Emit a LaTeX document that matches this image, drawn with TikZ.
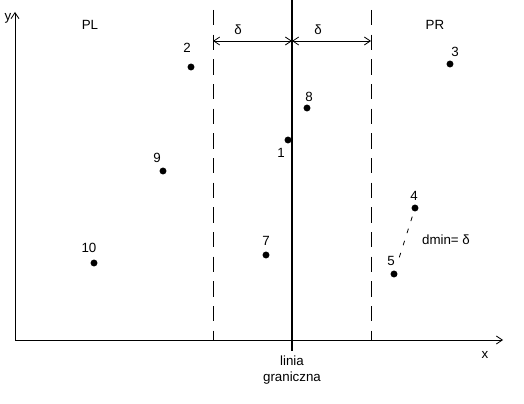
\documentclass[tikz,border=0pt]{standalone}
\usepackage{fontspec}
\setmainfont{Liberation Sans}
\usetikzlibrary{arrows.meta}
\begin{document}
\begin{tikzpicture}[x=0.75pt,y=-0.75pt,
  lbl/.style={font=\fontsize{10}{11}\selectfont, inner sep=0pt},
  dot/.style={circle, fill=black, inner sep=0pt, minimum size=5.2pt},
  axisarrow/.style={-{Straight Barb[length=4.5pt,width=6pt]}, line width=0.6pt},
  dimarrow/.style={{Straight Barb[length=4.5pt,width=6pt]}-{Straight Barb[length=4.5pt,width=6pt]}, line width=0.6pt},
  bound/.style={dash pattern=on 11.5pt off 7pt, line width=0.6pt}]
\useasboundingbox (0,0) rectangle (524,403);
% axes
\coordinate (O) at (15,340);
\coordinate (ytop) at (15,12);
\coordinate (xend) at (503,340);
\draw[axisarrow] (O) -- (ytop);
\draw[axisarrow] (O) -- (xend);
\node[lbl] (ylab) at (8,18) {y};
\node[lbl] (xlab) at (485,355) {x};
% boundary line
\coordinate (btop) at (292,0);
\coordinate (bbot) at (292,351);
\draw[line width=1.5pt] (btop) -- (bbot);
% dashed lines
\coordinate (dlt) at (213,10);
\coordinate (dlb) at (213,340);
\coordinate (drt) at (371,10);
\coordinate (drb) at (371,340);
\draw[bound] (dlt) -- (dlb);
\draw[bound] (drt) -- (drb);
% delta arrows
\coordinate (dm) at (292,41);
\coordinate (dl) at (213,41);
\coordinate (dr) at (371,41);
\draw[dimarrow] (dm) -- (dl);
\draw[dimarrow] (dm) -- (dr);
\node[lbl] (d1) at (238,30) {δ};
\node[lbl] (d2) at (318,30) {δ};
% region labels
\node[lbl] (PL) at (90,25) {PL};
\node[lbl] (PR) at (435,25) {PR};
% points
\node[dot] (p1) at (288,140) {};
\node[dot] (p2) at (191,67) {};
\node[dot] (p3) at (450,64) {};
\node[dot] (p4) at (415,208) {};
\node[dot] (p5) at (394,274) {};
\node[dot] (p7) at (266,255) {};
\node[dot] (p8) at (307,108) {};
\node[dot] (p9) at (163,171) {};
\node[dot] (p10) at (94,263) {};
\node[lbl] (l1) at (281,153) {1};
\node[lbl] (l2) at (187,48) {2};
\node[lbl] (l3) at (455,52) {3};
\node[lbl] (l4) at (414,196) {4};
\node[lbl] (l5) at (391,261) {5};
\node[lbl] (l7) at (266,241) {7};
\node[lbl] (l8) at (309,97) {8};
\node[lbl] (l9) at (157,158) {9};
\node[lbl] (l10) at (89,248) {10};
% dmin
\draw[dash pattern=on 3.5pt off 6pt, line width=0.6pt, shorten <=4pt, shorten >=5pt] (p4) -- (p5);
\node[lbl] (dmin) at (446,240) {dmin= δ};
% boundary label
\node[lbl, align=center] (gr) at (292,370) {linia\\[1pt]graniczna};
\end{tikzpicture}
\end{document}
